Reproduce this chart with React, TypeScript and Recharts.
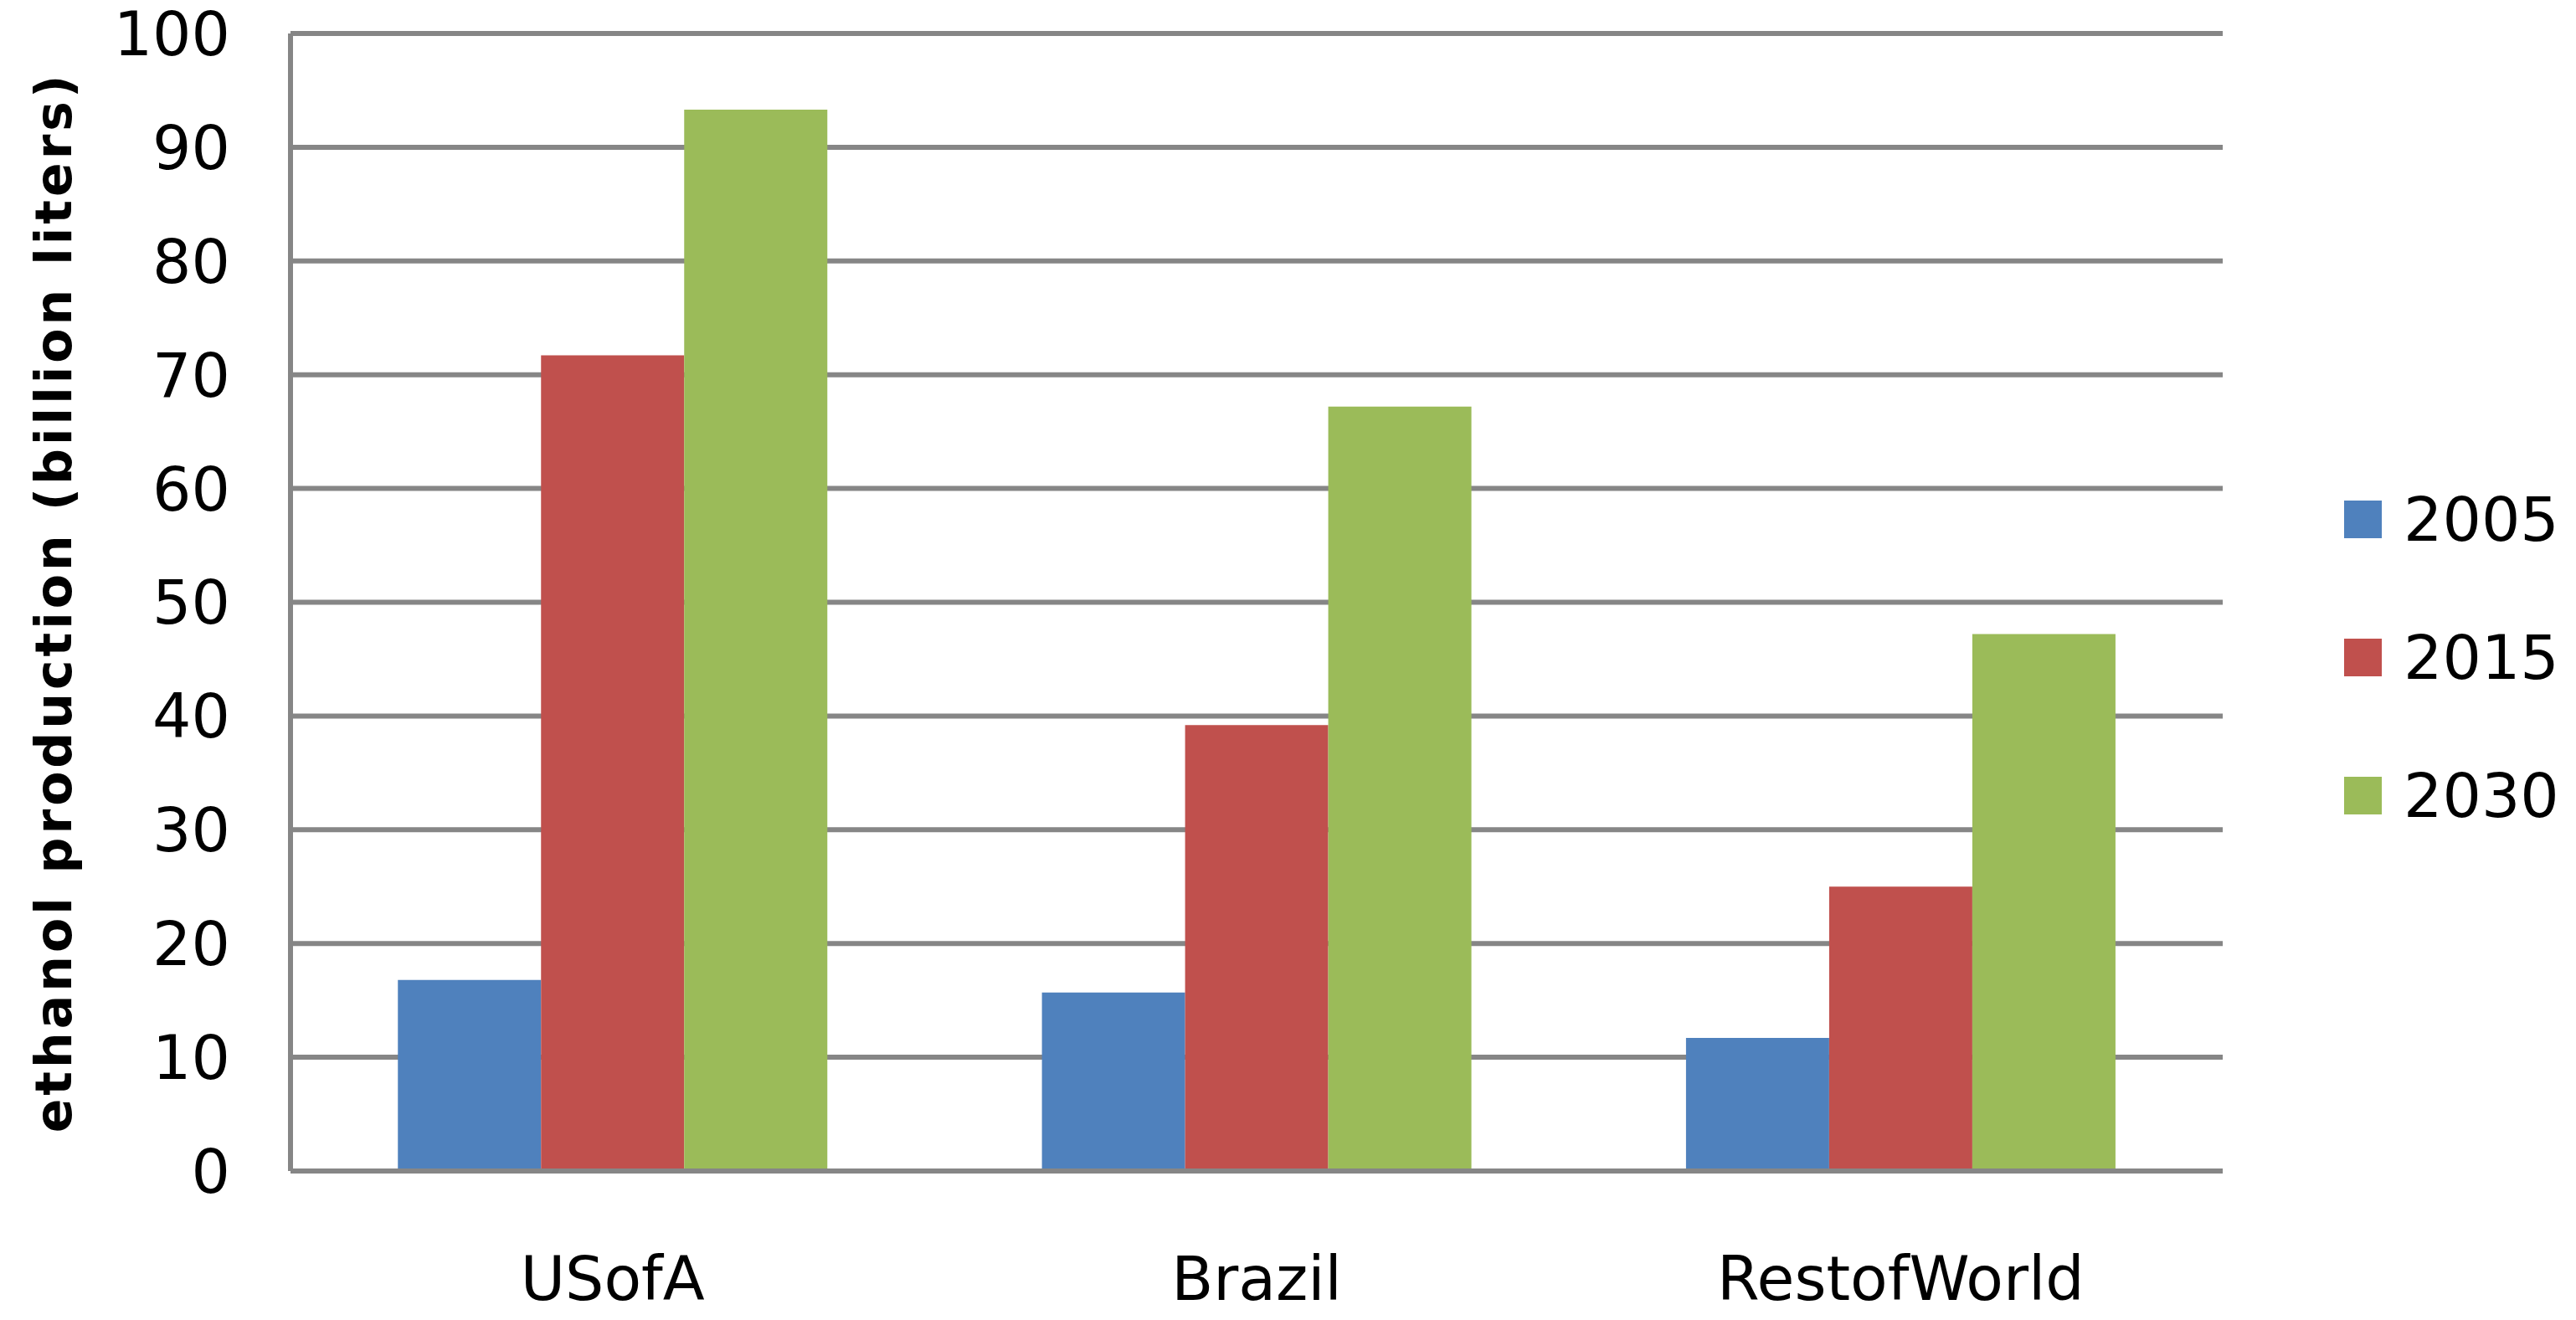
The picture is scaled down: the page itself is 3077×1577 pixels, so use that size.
import React from "react";
import {
  BarChart,
  Bar,
  XAxis,
  YAxis,
  CartesianGrid,
  Legend,
} from "recharts";

const countries = ["USofA", "Brazil", "RestofWorld"];
const values2005 = [16.8, 15.7, 11.7];
const values2015 = [71.7, 39.2, 25.0];
const values2030 = [93.3, 67.2, 47.2];
const yTicks = [0, 10, 20, 30, 40, 50, 60, 70, 80, 90, 100];

const seriesNames = ["2005", "2015", "2030"];
const seriesColors = ["#4F81BD", "#C0504D", "#9BBB59"];

const data = countries.map((c, i) => ({
  country: c,
  y2005: values2005[i],
  y2015: values2015[i],
  y2030: values2030[i],
}));

const FONT = "'DejaVu Sans', Verdana, sans-serif";
const AXIS = "#868686";

function LegendBox(props: any) {
  const items = props.payload || [];
  return (
    <div>
      {items.map((p: any) => (
        <div
          key={p.value}
          style={{
            display: "flex",
            alignItems: "center",
            height: 165,
          }}
        >
          <div
            style={{
              width: 45,
              height: 45,
              marginLeft: 10,
              marginRight: 26,
              background: p.color,
            }}
          />
          <span style={{ fontFamily: FONT, fontSize: 73, color: "#000" }}>
            {p.value}
          </span>
        </div>
      ))}
    </div>
  );
}

export default function App() {
  return (
    <div
      style={{
        position: "absolute",
        left: 0,
        top: 0,
        width: 3077,
        height: 1577,
        background: "#fff",
      }}
    >
      <BarChart
        width={3077}
        height={1577}
        data={data}
        margin={{ top: 40, right: 142, bottom: 0, left: 0 }}
        barCategoryGap="16.67%"
        barGap={0}
      >
        <CartesianGrid
          vertical={false}
          stroke={AXIS}
          strokeWidth={6}
        />
        <XAxis
          dataKey="country"
          height={178}
          tickLine={false}
          axisLine={{ stroke: AXIS, strokeWidth: 6 }}
          tickMargin={96}
          tick={{ fontFamily: FONT, fontSize: 73, fill: "#000" }}
        />
        <YAxis
          width={347}
          domain={[0, 100]}
          ticks={yTicks}
          interval={0}
          tickLine={false}
          axisLine={{ stroke: AXIS, strokeWidth: 6 }}
          tickMargin={66}
          tick={{ fontFamily: FONT, fontSize: 73, fill: "#000" }}
          label={{
            value: "ethanol production (billion liters)",
            angle: -90,
            position: "center",
            dx: -110,
            style: {
              fontFamily: FONT,
              fontSize: 60,
              fontWeight: "bold",
              letterSpacing: 4,
              fill: "#000",
            },
          }}
        />
        <Legend
          layout="vertical"
          align="right"
          verticalAlign="middle"
          content={<LegendBox />}
          wrapperStyle={{ left: 2790, top: 538, width: 280 }}
        />
        <Bar
          dataKey="y2005"
          name={seriesNames[0]}
          fill={seriesColors[0]}
          isAnimationActive={false}
        />
        <Bar
          dataKey="y2015"
          name={seriesNames[1]}
          fill={seriesColors[1]}
          isAnimationActive={false}
        />
        <Bar
          dataKey="y2030"
          name={seriesNames[2]}
          fill={seriesColors[2]}
          isAnimationActive={false}
        />
      </BarChart>
    </div>
  );
}
